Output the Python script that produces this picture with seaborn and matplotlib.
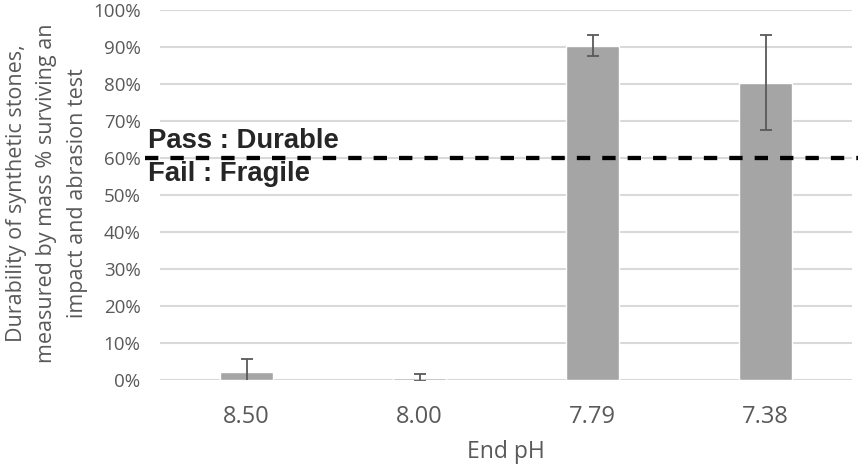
import matplotlib
matplotlib.use("Agg")
import matplotlib.pyplot as plt
import seaborn as sns
import pandas as pd
from matplotlib.ticker import PercentFormatter

# values
ph_labels = ['8.50', '8.00', '7.79', '7.38']
durability = [2.2, 0.6, 90.4, 80.4]
error = [3.5, 0.9, 2.9, 12.9]
threshold = 60

data = pd.DataFrame({'pH': ph_labels, 'durability': durability})

sns.set_style("whitegrid")
plt.rcParams['font.family'] = ['Open Sans', 'DejaVu Sans']

fig = plt.figure(figsize=(8.58, 4.67), dpi=100)
ax = fig.add_axes([160 / 858, 1 - 380 / 467, 692 / 858, 370 / 467])

sns.barplot(data=data, x='pH', y='durability', color='#a5a5a5', width=0.306,
            saturation=1, ax=ax, zorder=2)
ax.errorbar(range(len(ph_labels)), durability, yerr=error, fmt='none',
            ecolor='#595959', elinewidth=1.3, capsize=4.3, capthick=1.3, zorder=3)

# pass / fail threshold
ax.plot([-0.022, 1.01], [threshold, threshold], transform=ax.get_yaxis_transform(),
        color='black', linestyle=(0, (3.1, 2.8)), linewidth=3.1, clip_on=False, zorder=4)
ax.text(-0.017, threshold + 2.7, 'Pass : Durable', transform=ax.get_yaxis_transform(),
        fontsize=19.8, fontweight='bold', family='Liberation Sans', va='baseline', ha='left')
ax.text(-0.017, threshold - 0.9, 'Fail : Fragile', transform=ax.get_yaxis_transform(),
        fontsize=19.8, fontweight='bold', family='Liberation Sans', va='top', ha='left')

ax.set_ylim(0, 100)
ax.set_xlim(-0.5, 3.5)
ax.set_yticks(range(0, 101, 10))
ax.yaxis.set_major_formatter(PercentFormatter(decimals=0))
ax.grid(axis='y', color='#d9d9d9', linewidth=1.5)
ax.grid(axis='x', visible=False)
for s in ax.spines.values():
    s.set_visible(False)
ax.tick_params(axis='both', colors='#595959', length=0)
ax.tick_params(axis='y', labelsize=13.5, pad=14)
ax.tick_params(axis='x', labelsize=17, pad=18)

ax.set_xlabel('End pH', fontsize=16.5, color='#595959')
ax.xaxis.set_label_coords(0.5, -0.162)
ax.set_ylabel('Durability of synthetic stones,\nmeasured by mass % surviving an\nimpact and abrasion test',
              fontsize=15.5, color='#595959', linespacing=1.6)
ax.yaxis.set_label_coords(-0.104, 0.505)

fig.savefig('out.png', dpi=100)
